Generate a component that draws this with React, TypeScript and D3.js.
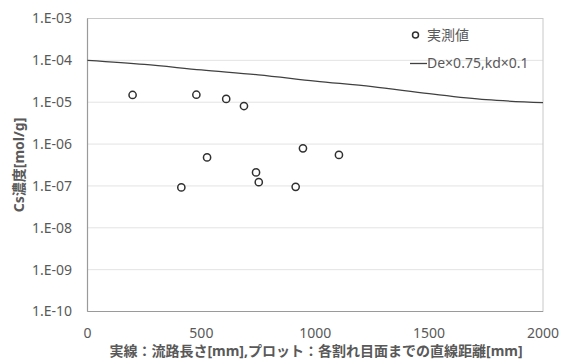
import React from "react";
import * as d3 from "d3";

const measuredDist = [198, 478, 609, 687, 525, 946, 1104, 740, 752, 914, 412];
const measuredConc = [1.49e-5, 1.51e-5, 1.2e-5, 8.1e-6, 4.8e-7, 7.9e-7, 5.5e-7, 2.1e-7, 1.23e-7, 9.5e-8, 9.2e-8];
const lineDist = [0, 250, 500, 750, 1000, 1250, 1500, 1750, 2000];
const lineConc = [1.0e-4, 8.0e-5, 5.9e-5, 4.5e-5, 3.2e-5, 2.35e-5, 1.6e-5, 1.15e-5, 9.8e-6];
const xTicks = [0, 500, 1000, 1500, 2000];
const yTicks = [1e-3, 1e-4, 1e-5, 1e-6, 1e-7, 1e-8, 1e-9, 1e-10];
const yTickLabels = ["1.E-03", "1.E-04", "1.E-05", "1.E-06", "1.E-07", "1.E-08", "1.E-09", "1.E-10"];
const legendLabels = ["実測値", "De×0.75,kd×0.1"];
const xTitle = "実線：流路長さ[mm],プロット：各割れ目面までの直線距離[mm]";
const yTitle = "Cs濃度[mol/g]";

export default function App() {
  const W = 561, H = 363;
  const L = 87.5, R = 543, T = 18.5, B = 311.5;
  const x = d3.scaleLinear().domain([0, 2000]).range([L, R]);
  const y = d3.scaleLog().domain([1e-10, 1e-3]).range([B, T]);
  const line = d3.line<number>().x((_, i) => x(lineDist[i])).y((d) => y(d)).curve(d3.curveMonotoneX);
  const font = "'Noto Sans', 'Noto Sans CJK JP', sans-serif";
  const txt = "#595959";
  return (
    <svg width={W} height={H} style={{ position: "absolute", left: 0, top: 0 }} fontFamily={font}>
      <rect x={0} y={0} width={W} height={H} fill="#fff" />
      {yTicks.map((t, i) => (
        <line key={"g" + i} x1={L} x2={R} y1={y(t)} y2={y(t)} stroke="#e3e3e3" strokeWidth={1} />
      ))}
      <rect x={L} y={T} width={R - L} height={B - T} fill="none" stroke="#c8c8c8" strokeWidth={1} />
      <line x1={L} x2={L} y1={T} y2={B} stroke="#9a9a9a" strokeWidth={1.2} />
      <line x1={L} x2={R} y1={B} y2={B} stroke="#9a9a9a" strokeWidth={1.2} />
      {yTicks.map((t, i) => (
        <text key={"yt" + i} x={72} y={y(t)} dy="0.35em" textAnchor="end" fontSize={14} fill={txt}>
          {yTickLabels[i]}
        </text>
      ))}
      {xTicks.map((t, i) => (
        <text key={"xt" + i} x={x(t)} y={338} textAnchor="middle" fontSize={14} fill={txt}>
          {t}
        </text>
      ))}
      <path d={line(lineConc) || ""} fill="none" stroke="#404040" strokeWidth={1.3} />
      {measuredDist.map((d, i) => (
        <circle key={"p" + i} cx={x(d)} cy={y(measuredConc[i])} r={3.6} fill="#fff" stroke="#303030" strokeWidth={1.5} />
      ))}
      <circle cx={415.5} cy={35} r={3} fill="#fff" stroke="#303030" strokeWidth={1.5} />
      <text x={427} y={35} dy="0.35em" fontSize={14} fill={txt}>{legendLabels[0]}</text>
      <line x1={410} x2={427} y1={63.5} y2={63.5} stroke="#404040" strokeWidth={1.3} />
      <text x={427} y={63.5} dy="0.35em" fontSize={14} fill={txt}>{legendLabels[1]}</text>
      <text x={316} y={356} textAnchor="middle" fontSize={14} fontWeight="bold" fill={txt}>{xTitle}</text>
      <text transform={`translate(19,${(T + B) / 2}) rotate(-90)`} textAnchor="middle" dy="0.35em" fontSize={14} fontWeight="bold" fill={txt}>{yTitle}</text>
    </svg>
  );
}
